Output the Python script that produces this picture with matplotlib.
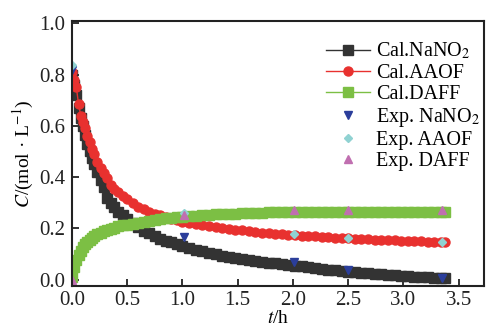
import numpy as np
import matplotlib
matplotlib.use("Agg")
import matplotlib.pyplot as plt

plt.rcParams['font.family'] = ['Liberation Serif', 'DejaVu Serif']
plt.rcParams['mathtext.fontset'] = 'stix'
plt.rcParams['font.size'] = 14

# calculated curves
t_cal = [0, 0.02, 0.04, 0.06, 0.08, 0.10, 0.12, 0.14, 0.16, 0.18, 0.20, 0.23, 0.26, 0.29,
         0.32, 0.35, 0.38, 0.42, 0.46, 0.50, 0.55, 0.60, 0.65, 0.70, 0.75, 0.80, 0.85, 0.90,
         0.95, 1.00, 1.06, 1.12, 1.18, 1.24, 1.30, 1.36, 1.42, 1.48, 1.54, 1.60, 1.66, 1.72,
         1.78, 1.84, 1.90, 1.96, 2.02, 2.08, 2.14, 2.20, 2.26, 2.32, 2.38, 2.44, 2.50, 2.56,
         2.62, 2.68, 2.74, 2.80, 2.86, 2.92, 2.98, 3.04, 3.10, 3.16, 3.22, 3.28, 3.34, 3.38]
cal_nano2 = [0.80, 0.76, 0.72, 0.67, 0.63, 0.60, 0.565, 0.53, 0.50, 0.475, 0.45, 0.42, 0.39, 0.36,
             0.32, 0.30, 0.285, 0.265, 0.25, 0.235, 0.22, 0.205, 0.19, 0.18, 0.17, 0.16, 0.152, 0.145,
             0.138, 0.132, 0.124, 0.117, 0.110, 0.104, 0.098, 0.093, 0.088, 0.084, 0.080, 0.076, 0.072, 0.069,
             0.066, 0.063, 0.060, 0.057, 0.054, 0.051, 0.048, 0.045, 0.042, 0.039, 0.036, 0.033, 0.030, 0.028,
             0.026, 0.024, 0.022, 0.020, 0.018, 0.016, 0.014, 0.012, 0.011, 0.009, 0.008, 0.007, 0.006, 0.005]
cal_aaof = [0.81, 0.78, 0.75, 0.685, 0.64, 0.615, 0.59, 0.56, 0.535, 0.51, 0.49, 0.46, 0.435, 0.415,
            0.395, 0.37, 0.355, 0.34, 0.325, 0.315, 0.30, 0.285, 0.275, 0.265, 0.257, 0.25, 0.243, 0.237,
            0.232, 0.226, 0.221, 0.216, 0.212, 0.208, 0.204, 0.201, 0.198, 0.195, 0.192, 0.189, 0.186, 0.183,
            0.181, 0.179, 0.177, 0.175, 0.173, 0.171, 0.169, 0.168, 0.166, 0.165, 0.163, 0.162, 0.161, 0.159,
            0.158, 0.157, 0.156, 0.155, 0.154, 0.153, 0.152, 0.151, 0.150, 0.149, 0.148, 0.147, 0.146, 0.145]
cal_daff = [0.01, 0.05, 0.075, 0.095, 0.11, 0.125, 0.138, 0.148, 0.155, 0.162, 0.168, 0.176, 0.183, 0.189,
            0.195, 0.199, 0.203, 0.207, 0.211, 0.214, 0.218, 0.222, 0.226, 0.230, 0.233, 0.236, 0.239, 0.241,
            0.243, 0.245, 0.247, 0.249, 0.251, 0.253, 0.254, 0.255, 0.256, 0.257, 0.258, 0.259, 0.260, 0.261,
            0.262, 0.262, 0.263, 0.263, 0.263, 0.264, 0.264, 0.264, 0.264, 0.265, 0.265, 0.265, 0.265, 0.265,
            0.265, 0.265, 0.265, 0.265, 0.265, 0.265, 0.265, 0.265, 0.265, 0.265, 0.265, 0.265, 0.265, 0.265]

# experimental points
t_exp = [0, 1.01, 2.01, 2.50, 3.35]
exp_nano2 = [0.82, 0.165, 0.067, 0.036, 0.004]
exp_aaof = [0.836, 0.26, 0.178, 0.162, 0.147]
exp_daff = [0.0, 0.25, 0.27, 0.27, 0.27]

fig = plt.figure(figsize=(4.86, 3.26), dpi=100)
ax = fig.add_axes([0.148, 0.123, 0.848, 0.813])

ax.plot(t_cal, cal_nano2, '-s', color='#333333', markersize=6.5, linewidth=1, label='Cal.NaNO$_2$')
ax.plot(t_cal, cal_aaof, '-o', color='#e8312f', markersize=6.5, linewidth=1, label='Cal.AAOF')
ax.plot(t_cal, cal_daff, '-s', color='#7cbf44', markersize=6.5, linewidth=1, label='Cal.DAFF')
ax.plot(t_exp, exp_nano2, 'v', color='#2b3e9b', markersize=5.5, linestyle='none', label='Exp. NaNO$_2$')
ax.plot(t_exp, exp_aaof, 'D', color='#90d2d2', markersize=4.5, linestyle='none', label='Exp. AAOF')
ax.plot(t_exp, exp_daff, '^', color='#c06fb0', markersize=5.5, linestyle='none', label='Exp. DAFF')

ax.set_xlim(0, 3.73)
ax.set_ylim(-0.025, 1.01)
ax.set_xticks(np.arange(0, 3.51, 0.5))
ax.set_yticks(np.arange(0, 1.01, 0.2))
ax.xaxis.set_major_formatter(matplotlib.ticker.FormatStrFormatter('%.1f'))
ax.yaxis.set_major_formatter(matplotlib.ticker.FormatStrFormatter('%.1f'))
ax.tick_params(direction='in', length=5, width=1.3, labelsize=15, colors='#222222')
ax.tick_params(axis='y', pad=5)
for s in ax.spines.values():
    s.set_linewidth(1.5)
    s.set_color('#222222')

ax.set_xlabel('$t$/h', fontsize=14, labelpad=0)
ax.set_ylabel('$C$/(mol · L$^{-1}$)', fontsize=14, labelpad=2)

ax.legend(loc='upper right', frameon=False, fontsize=14.5, handlelength=2.2, handletextpad=0.3,
          labelspacing=0.1, borderaxespad=0.2, bbox_to_anchor=(1.02, 0.97))

plt.savefig('out.png', dpi=100)
